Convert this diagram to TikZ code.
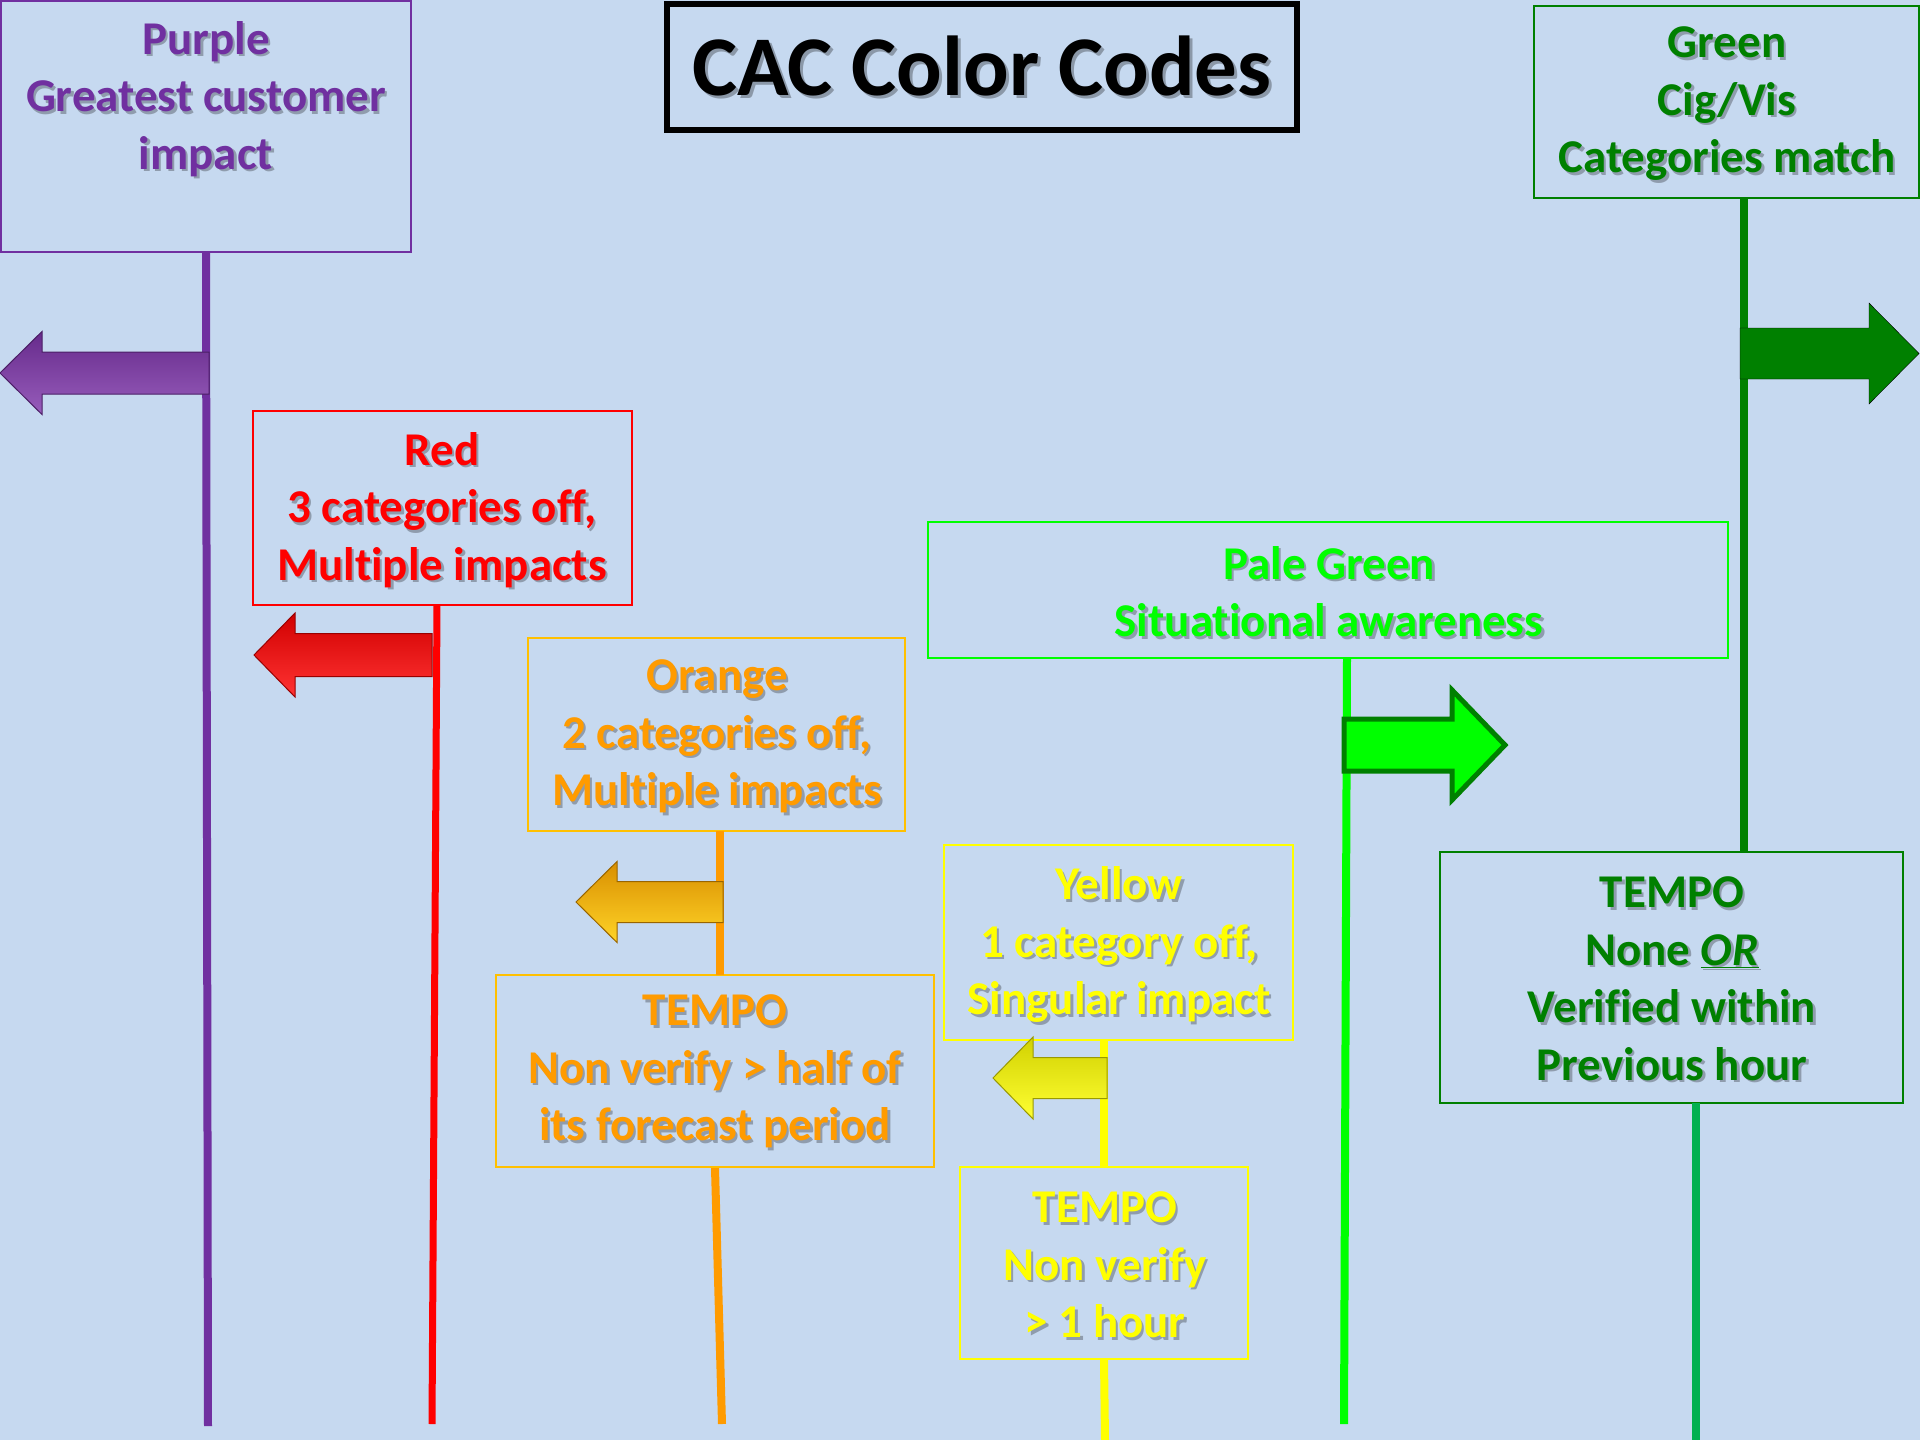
\documentclass[tikz,border=0pt]{standalone}
\usepackage{fontspec}
\setmainfont{Carlito}[Ligatures=NoCommon]
\definecolor{bg}{RGB}{198,217,240}
\definecolor{cpurple}{RGB}{112,48,160}
\definecolor{cred}{RGB}{255,0,0}
\definecolor{corange}{RGB}{255,155,0}
\definecolor{corangebox}{RGB}{255,192,0}
\definecolor{cyellow}{RGB}{255,255,0}
\definecolor{cpale}{RGB}{0,255,0}
\definecolor{cgreen}{RGB}{0,128,0}
\definecolor{cgreentwo}{RGB}{0,176,80}
\definecolor{apurple}{RGB}{125,52,170}
\definecolor{aorange}{RGB}{255,168,0}
\definecolor{aorangelight}{RGB}{255,212,40}
\newcommand\sh[1]{\makebox[0pt][l]{\hspace{2.5pt}\raisebox{-2.5pt}{\textcolor{black!28!bg}{#1}}}#1}
\newcommand\shbig[1]{\makebox[0pt][l]{\hspace{3pt}\raisebox{-3pt}{\textcolor{black!30!bg}{#1}}}#1}
\newcommand\arrowshape[7]{\draw[#1] (#2,#3) -- (#4,{#3-#5}) -- (#4,{#3-#6}) -- (#7,{#3-#6}) -- (#7,{#3+#6}) -- (#4,{#3+#6}) -- (#4,{#3+#5}) -- cycle;}
\begin{document}
\begin{tikzpicture}[x=1pt,y=-1pt,
  txt/.style={font=\bfseries\fontsize{47}{57.5}\selectfont, align=center, inner sep=0pt},
  box/.style={draw, line width=2.2pt, inner sep=0pt, rectangle},
  vline/.style={line width=8pt},
  bevel/.style={draw=#1!60!black, line width=1pt, top color=#1!82!black, middle color=#1, bottom color=#1!80!white}
]
\useasboundingbox (0,0) rectangle (1920,1440);
\fill[bg] (0,0) rectangle (1920,1440);

% boxes
\node[box, draw=cpurple, line width=1.5pt, minimum width=410, minimum height=251] (pbox) at (206,126.5) {};
\node[box, draw=cred, minimum width=379, minimum height=194] (rbox) at (442.5,508) {};
\node[box, draw=corangebox, minimum width=377, minimum height=193] (obox) at (716.5,734.5) {};
\node[box, draw=corangebox, minimum width=438, minimum height=192] (otbox) at (715,1071) {};
\node[box, draw=cyellow, minimum width=349, minimum height=195] (ybox) at (1118.5,942.5) {};
\node[box, draw=cyellow, minimum width=288, minimum height=192] (ytbox) at (1104,1263) {};
\node[box, draw=cpale, minimum width=800, minimum height=136] (pgbox) at (1328,590) {};
\node[box, draw=cgreen, minimum width=385, minimum height=192] (gbox) at (1726.5,102) {};
\node[box, draw=cgreen, minimum width=463, minimum height=251] (gtbox) at (1671.5,977.5) {};
\node[box, draw=black, line width=6pt, minimum width=630, minimum height=126,
      font=\bfseries\fontsize{85}{100}\selectfont] (tbox) at (982,67) {\shbig{CAC Color Codes}};

% line end points
\coordinate (rtop) at (437,605);
\coordinate (otop) at (720,831);
\coordinate (obot) at (720,975);
\coordinate (pgtop) at (1347,658);
\coordinate (gtop) at (1744,198);
\coordinate (gbot) at (1744,852);
\coordinate (gttop) at (1696,1103);
\coordinate (pend) at (208,1426);
\coordinate (rend) at (432,1424);
\coordinate (oend) at (722,1424);
\coordinate (yend) at (1105,1440);
\coordinate (pgend) at (1344,1424);
\coordinate (gend) at (1696,1440);

% vertical lines
\draw[vline, cpurple] (pbox.south) -- (pend);
\draw[vline, cred, line width=7pt] (rtop) -- (rend);
\draw[vline, corange] (otop) -- (obot);
\draw[vline, corange] (otbox.south) -- (oend);
\draw[vline, cyellow] (ybox.south -| ytbox.north) -- (ytbox.north);
\draw[vline, cyellow] (ytbox.south) -- (yend);
\draw[vline, cpale] (pgtop) -- (pgend);
\draw[vline, cgreen] (gtop) -- (gbot);
\draw[vline, cgreentwo] (gttop) -- (gend);

% arrows
\arrowshape{bevel=apurple}{0}{373}{42}{41.5}{21}{209}
\arrowshape{bevel=cred}{254}{655}{295}{42}{21.5}{432}
\arrowshape{draw=aorange!60!black, line width=1pt, top color=aorange!85!black, middle color=aorange, bottom color=aorangelight}{576}{902}{617}{40.5}{20.5}{723}
\arrowshape{bevel=cyellow}{993}{1078}{1033}{41}{20.5}{1107}
\arrowshape{fill=cpale, draw=cgreen, line width=5pt}{1505}{745}{1452}{55}{26}{1344}
\arrowshape{fill=cgreen}{1919}{353.5}{1869}{50.5}{25.5}{1740}

% texts
\node[txt, text=cpurple] (ptext) at (206,100) {\sh{Purple}\\\sh{Greatest customer}\\\sh{impact}};
\node[txt, text=cgreen] (gtext) at (1727,105) {\sh{Green}\\\sh{Cig/Vis}\\\sh{Categories match}};
\node[txt, text=cred] (rtext) at (442,511) {\sh{Red}\\\sh{3 categories off,}\\\sh{Multiple impacts}};
\node[txt, text=cpale] (pgtext) at (1329,593) {\sh{Pale Green}\\\sh{Situational awareness}};
\node[txt, text=corange] (otext) at (717,738) {\sh{Orange}\\\sh{2 categories off,}\\\sh{Multiple impacts}};
\node[txt, text=corange] (ottext) at (715,1073) {\sh{TEMPO}\\\sh{Non verify > half of}\\\sh{its forecast period}};
\node[txt, text=cyellow] (ytext) at (1119,946) {\sh{Yellow}\\\sh{1 category off,}\\\sh{Singular impact}};
\node[txt, text=cyellow] (yttext) at (1105,1266) {\sh{TEMPO}\\\sh{Non verify}\\\sh{> 1 hour}};
\node[txt, text=cgreen] (gttext) at (1672,980) {\sh{TEMPO}\\\sh{None \underline{\textit{OR}}}\\\sh{Verified within}\\\sh{Previous hour}};
\end{tikzpicture}
\end{document}
